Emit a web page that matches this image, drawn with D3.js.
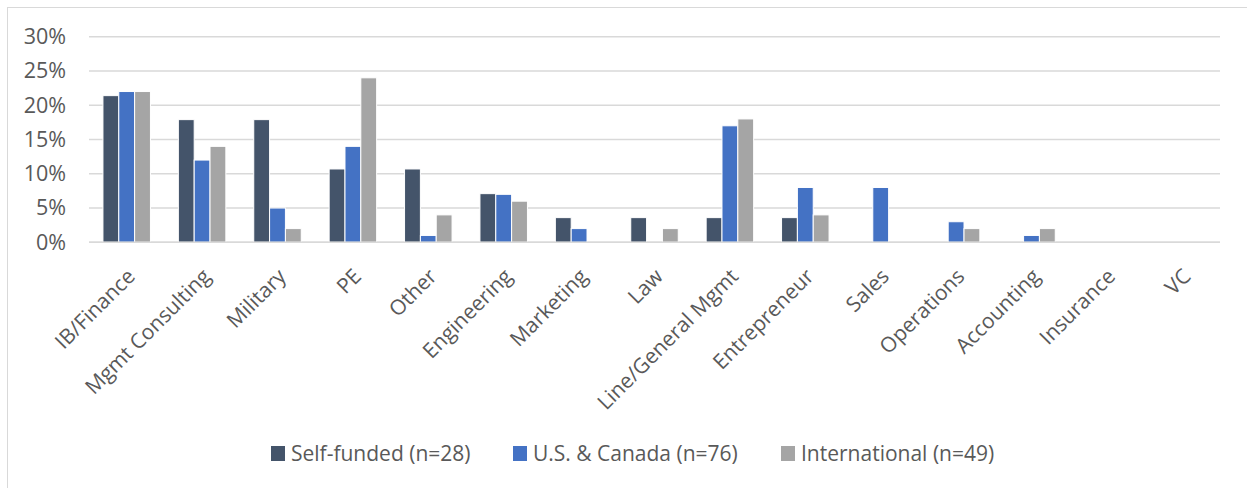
<!DOCTYPE html>
<html>
<head>
<meta charset="utf-8">
<script src="https://cdn.jsdelivr.net/npm/d3@7/dist/d3.min.js"></script>
<style>
  html, body { margin: 0; padding: 0; background: #fff; }
  svg { display: block; font-family: "Open Sans", "Noto Sans", sans-serif; }
</style>
</head>
<body>
<svg id="chart" width="1247" height="488"></svg>
<script>
// Prior career of students, share of each funding group
const categories = ["IB/Finance", "Mgmt Consulting", "Military", "PE", "Other", "Engineering",
  "Marketing", "Law", "Line/General Mgmt", "Entrepreneur", "Sales", "Operations",
  "Accounting", "Insurance", "VC"];
const seriesNames = ["Self-funded (n=28)", "U.S. & Canada (n=76)", "International (n=49)"];
const selfFunded   = [21.4, 17.9, 17.9, 10.7, 10.7, 7.1, 3.6, 3.6, 3.6, 3.6, 0, 0, 0, 0, 0];
const usCanada     = [22, 12, 5, 14, 1, 7, 2, 0, 17, 8, 8, 3, 1, 0, 0];
const international = [22, 14, 2, 24, 4, 6, 0, 2, 18, 4, 0, 2, 2, 0, 0];
const yTicks = [0, 5, 10, 15, 20, 25, 30];
const colors = ["#44546A", "#4472C4", "#A5A5A5"];

const series = [selfFunded, usCanada, international];
const svg = d3.select("#chart");

// outer chart frame
svg.append("rect")
  .attr("x", 7.5).attr("y", 7.5)
  .attr("width", 1260).attr("height", 500)
  .attr("fill", "none").attr("stroke", "#D9D9D9").attr("stroke-width", 1);

const plot = { left: 89, right: 1220, top: 36.7, bottom: 242.3 };

const x = d3.scaleBand().domain(categories).range([plot.left, plot.right]).paddingInner(0).paddingOuter(0);
const groupWidth = x.bandwidth() * 0.63;
const xs = d3.scaleBand().domain(d3.range(series.length)).range([0, groupWidth]).padding(0);
const y = d3.scaleLinear().domain([0, 30]).range([plot.bottom, plot.top]);

// gridlines
svg.append("g")
  .selectAll("line")
  .data(yTicks)
  .join("line")
  .attr("x1", plot.left).attr("x2", plot.right)
  .attr("y1", d => y(d)).attr("y2", d => y(d))
  .attr("stroke", "#D9D9D9").attr("stroke-width", 1.4);

// y axis labels
const yAxis = d3.axisLeft(y).tickValues(yTicks).tickFormat(d => d + "%").tickSize(0).tickPadding(0);
const yg = svg.append("g").attr("transform", `translate(66,0)`).call(yAxis);
yg.select(".domain").remove();
yg.selectAll("text")
  .attr("font-family", "Open Sans")
  .attr("font-size", 21.5)
  .attr("fill", "#595959");

// bars
const groups = svg.append("g")
  .selectAll("g")
  .data(categories)
  .join("g")
  .attr("transform", d => `translate(${x(d) + (x.bandwidth() - groupWidth) / 2},0)`);

groups.selectAll("rect")
  .data((d, i) => series.map((s, k) => ({ k, v: s[i] })))
  .join("rect")
  .filter(d => d.v > 0)
  .attr("x", d => xs(d.k))
  .attr("width", xs.bandwidth())
  .attr("y", d => y(d.v))
  .attr("height", d => y(0) - y(d.v))
  .attr("fill", d => colors[d.k])
  .attr("stroke", "#fff").attr("stroke-width", 1);

// baseline
svg.append("line")
  .attr("x1", plot.left).attr("x2", plot.right)
  .attr("y1", y(0)).attr("y2", y(0))
  .attr("stroke", "#D9D9D9").attr("stroke-width", 1.6);

// rotated category labels
svg.append("g")
  .selectAll("text")
  .data(categories)
  .join("text")
  .attr("transform", d => `translate(${x(d) + x.bandwidth() / 2 - 1},267) rotate(-45)`)
  .attr("text-anchor", "end")
  .attr("dy", "0.72em")
  .attr("font-size", 21)
  .attr("fill", "#595959")
  .text(d => d);

// legend
const legendX = [271, 513, 781];
const lg = svg.append("g")
  .selectAll("g")
  .data(seriesNames)
  .join("g")
  .attr("transform", (d, i) => `translate(${legendX[i]},446)`);
lg.append("rect")
  .attr("width", 14).attr("height", 15)
  .attr("fill", (d, i) => colors[i]);
lg.append("text")
  .attr("x", 20).attr("y", 7.5)
  .attr("dy", "0.35em")
  .attr("font-size", 21)
  .attr("fill", "#595959")
  .text(d => d);
</script>
</body>
</html>
